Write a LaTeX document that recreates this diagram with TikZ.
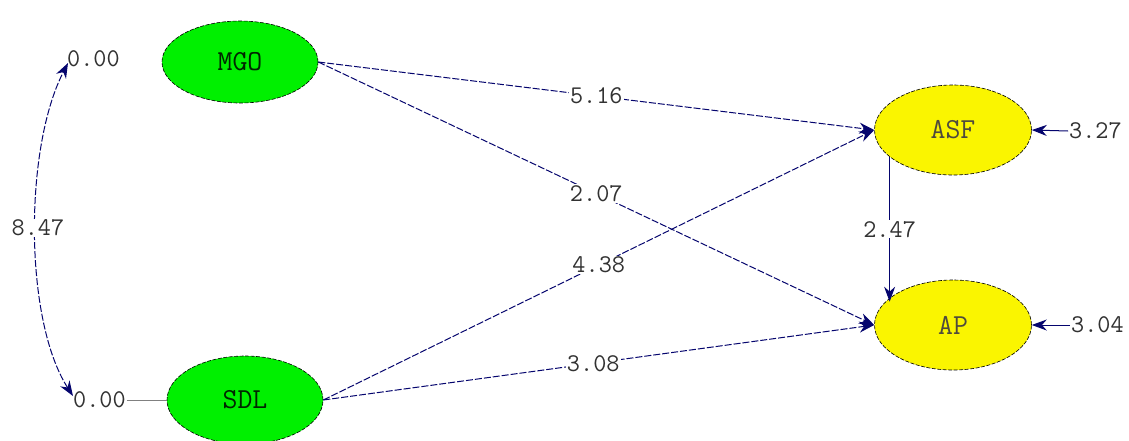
\documentclass[tikz,border=0pt]{standalone}
\usepackage{fontspec}
\usetikzlibrary{arrows.meta,shapes.geometric}
\definecolor{pathnavy}{RGB}{5,5,110}
\definecolor{lvgreen}{RGB}{0,240,0}
\definecolor{lvyellow}{RGB}{250,245,0}
\definecolor{numgray}{RGB}{50,50,50}
\tikzset{
  latent/.style={ellipse, draw=black, dash pattern=on 4pt off 1.5pt, line width=0.6pt, inner sep=0pt,
    font=\ttfamily\fontsize{29}{30}\selectfont, text=black!85!green},
  grn/.style={latent, fill=lvgreen, minimum width=156pt, minimum height=82pt},
  ylw/.style={latent, fill=lvyellow, minimum width=157pt, minimum height=90pt, text=black!80!yellow},
  num/.style={font=\ttfamily\fontsize{25.5}{26}\selectfont, text=numgray, inner sep=1pt},
  lbl/.style={num, fill=white, midway},
  tipstyle/.style={-{Stealth[length=15pt,width=11pt]}},
  pathline/.style={draw=pathnavy, line width=1pt, tipstyle, fill=none},
  dashline/.style={pathline, dash pattern=on 7pt off 2pt},
}
\begin{document}
\begin{tikzpicture}[x=1pt,y=-1pt]
\useasboundingbox[fill=white] (0,0) rectangle (1129,440);
\node[grn] (MGO) at (240,62) {MGO};
\node[grn, minimum height=88pt] (SDL) at (245,400) {SDL};
\node[ylw] (ASF) at (953,130) {ASF};
\node[ylw] (AP) at (953,325) {AP};
% variance labels
\node[num, anchor=west] (v1) at (66,59) {0.00};
\node[num, anchor=west] (v2) at (72,400) {0.00};
\node[num, anchor=west] (e1) at (1068,131) {3.27};
\node[num, anchor=west] (e2) at (1070,325) {3.04};
% covariance
\coordinate (c1) at (68,63);
\coordinate (c2) at (73,396);
\draw[draw=pathnavy, line width=1pt, dash pattern=on 7pt off 2pt,
  {Stealth[length=15pt,width=11pt]}-{Stealth[length=15pt,width=11pt]}]
  (c2) .. controls (24,320) and (24,148) .. (c1);
\node[num, fill=white] (cov) at (38,228) {8.47};
% line from variance label to SDL
\draw[gray, line width=0.6pt] (v2.east) -- (SDL.west);
% paths
\draw[dashline] (MGO.east) -- (ASF.west) node[lbl] {5.16};
\draw[dashline] (MGO.east) -- (AP.west) node[lbl] {2.07};
\draw[dashline] (SDL.east) -- (ASF.west) node[lbl] {4.38};
\draw[dashline] (SDL.east) -- (AP.west) node[lbl, pos=0.49] {3.08};
\path (ASF.203) coordinate (a1);
\draw[pathline] (a1) -- (a1 |- AP.161) node[lbl] {2.47};
% error terms
\draw[pathline] (e1.west) -- (ASF.east);
\draw[pathline] (e2.west) -- (AP.east);
\end{tikzpicture}
\end{document}
